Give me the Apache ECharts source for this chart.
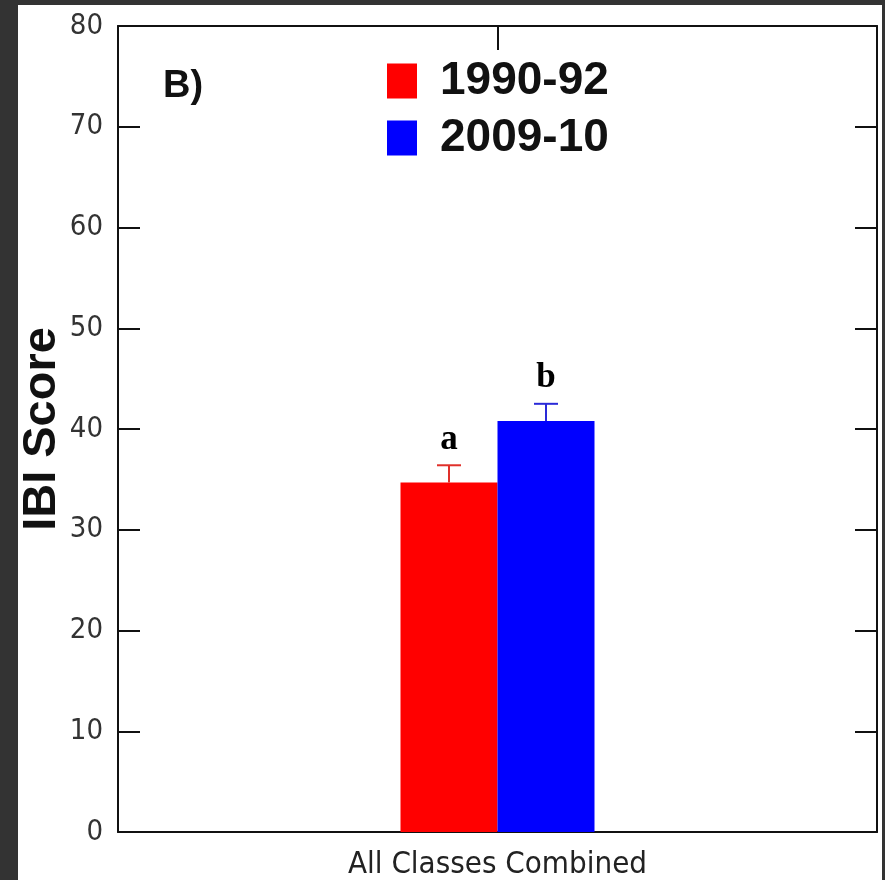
<!DOCTYPE html>
<html>
<head>
<meta charset="utf-8">
<script src="https://cdn.jsdelivr.net/npm/echarts@6/dist/echarts.min.js"></script>
<style>
  html, body { margin: 0; padding: 0; background: #333; }
  #chart { width: 885px; height: 880px; }
</style>
</head>
<body>
<div id="chart"></div>
<script>
// data
var categories = ['All Classes Combined'];
var periods = ['1990-92', '2009-10'];
var means = [34.7, 40.8];
var upperErr = [36.4, 42.5];
var letters = ['a', 'b'];
var yTicks = [0, 10, 20, 30, 40, 50, 60, 70, 80];

var colors = ['#ff0000', '#0000ff'];
var errColors = ['#e0302a', '#2a2ad8'];
var barW = 97;
var thinFont = '"DejaVu Sans Condensed", "Liberation Sans", sans-serif';

var chart = echarts.init(document.getElementById('chart'));

function errorBar(i) {
  return {
    name: periods[i] + ' err',
    type: 'custom',
    z: 3,
    data: [[0, upperErr[i]]],
    renderItem: function (params, api) {
      var base = api.coord([api.value(0), means[i]]);
      var top = api.coord([api.value(0), api.value(1)]);
      var x = base[0] + (i === 0 ? -barW / 2 : barW / 2);
      var st = { stroke: errColors[i], lineWidth: 2 };
      return {
        type: 'group',
        children: [
          { type: 'line', shape: { x1: x, y1: base[1], x2: x, y2: top[1] }, style: st },
          { type: 'line', shape: { x1: x - 12, y1: top[1], x2: x + 12, y2: top[1] }, style: st },
          {
            type: 'text',
            style: {
              text: letters[i], x: x, y: top[1] - 8,
              align: 'center', verticalAlign: 'bottom',
              fontFamily: 'Liberation Serif', fontWeight: 'bold', fontSize: 35, fill: '#000'
            }
          }
        ]
      };
    }
  };
}

var axisLine = { show: true, onZero: false, lineStyle: { color: '#111', width: 2 } };
var tick = { show: true, inside: true, length: 22, lineStyle: { color: '#111', width: 2 } };

chart.setOption({
  backgroundColor: '#333',
  animation: false,
  graphic: [{
    type: 'rect', z: -10, silent: true,
    shape: { x: 18, y: 5, width: 864, height: 875 },
    style: { fill: '#fff' }
  }],
  title: {
    text: 'B)',
    left: 163, top: 68,
    padding: 0,
    textStyle: { fontFamily: 'Liberation Sans', fontWeight: 'bold', fontSize: 38, color: '#111' }
  },
  legend: {
    data: periods,
    orient: 'vertical',
    left: 387, top: 58,
    padding: 0,
    itemWidth: 30, itemHeight: 35, itemGap: 11,
    icon: 'rect',
    textStyle: {
      fontFamily: 'Liberation Sans', fontWeight: 'bold', fontSize: 46, color: '#111',
      padding: [0, 0, 0, 18]
    }
  },
  grid: { left: 118, top: 26, right: 8, bottom: 47 },
  xAxis: [{
    type: 'category',
    data: categories,
    axisLine: axisLine,
    axisTick: { show: false },
    axisLabel: { fontFamily: thinFont, fontSize: 31, color: '#222', margin: 17 }
  }, {
    type: 'category',
    position: 'top',
    data: categories,
    axisLine: axisLine,
    axisTick: { show: true, inside: true, length: 24, alignWithLabel: true, lineStyle: { color: '#111', width: 2 } },
    axisLabel: { show: false }
  }],
  yAxis: [{
    type: 'value',
    min: 0, max: 80, interval: 10,
    name: 'IBI Score',
    nameLocation: 'middle',
    nameGap: 52,
    nameMoveOverlap: false,
    nameTextStyle: { fontFamily: 'Liberation Sans', fontWeight: 'bold', fontSize: 47, color: '#111' },
    axisLine: axisLine,
    axisTick: tick,
    axisLabel: {
      fontFamily: thinFont, fontSize: 29, color: '#333', margin: 15,
      formatter: function (v) { return yTicks.indexOf(v) >= 0 ? String(v) : ''; }
    },
    splitLine: { show: false }
  }, {
    type: 'value',
    position: 'right',
    min: 0, max: 80, interval: 10,
    axisLine: axisLine,
    axisTick: tick,
    axisLabel: { show: false },
    splitLine: { show: false }
  }],
  series: [
    {
      name: periods[0], type: 'bar', barWidth: barW, barGap: '0%',
      data: [means[0]], itemStyle: { color: colors[0] }
    },
    {
      name: periods[1], type: 'bar', barWidth: barW, barGap: '0%',
      data: [means[1]], itemStyle: { color: colors[1] }
    },
    errorBar(0),
    errorBar(1)
  ]
});
</script>
</body>
</html>
